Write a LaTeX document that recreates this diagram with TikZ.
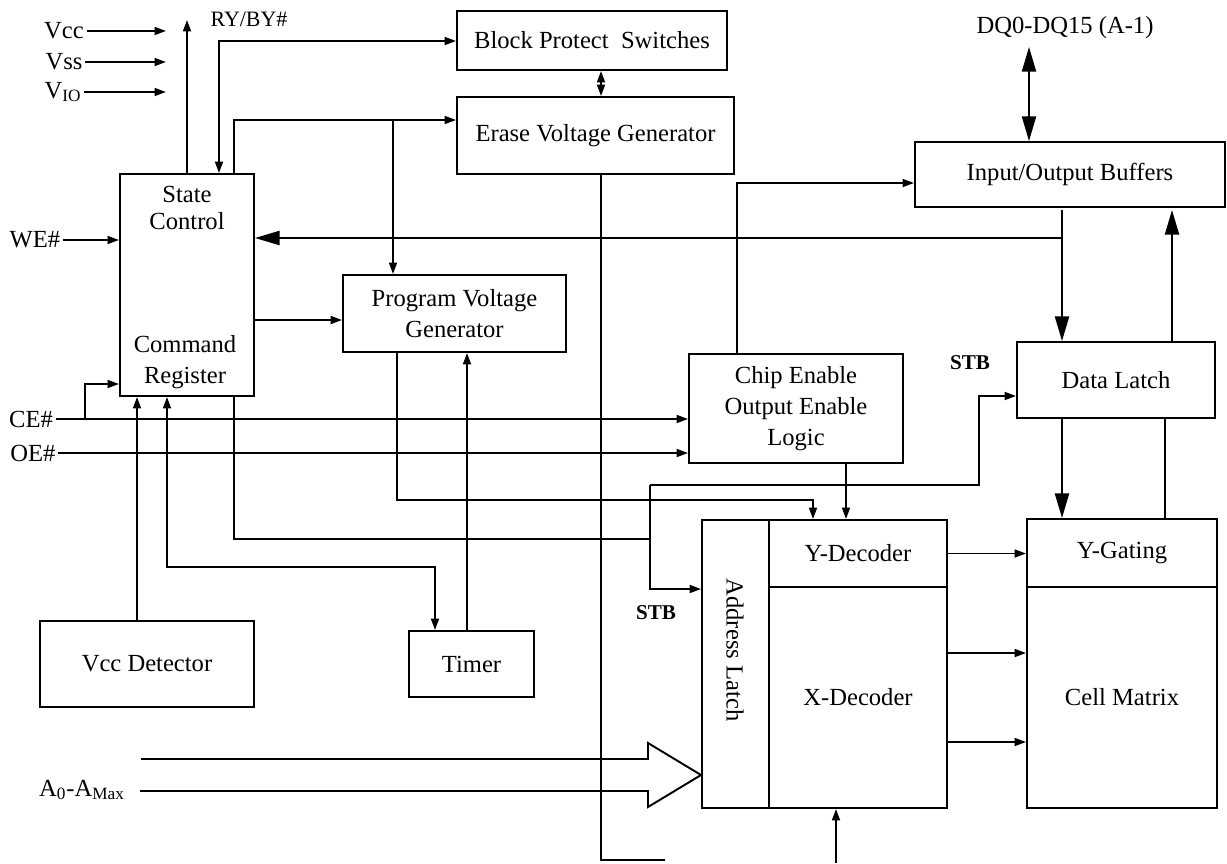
\documentclass[tikz,border=0pt]{standalone}
\usepackage{fontspec}
\setmainfont{Liberation Serif}
\usepackage{tikz}
\usetikzlibrary{arrows.meta}
\newdimen\px
\px=0.02cm

\begin{document}
\begin{tikzpicture}[x=\px, y=-\px, line width=1.1pt,
    every node/.style={font=\fontsize{14}{17.5}\selectfont, inner sep=1pt, align=center},
    blk/.style 2 args={draw, minimum width=#1*\px, minimum height=#2*\px, inner sep=0pt},
    sarr/.style={-{Triangle[length=6.5pt, width=4.5pt]}},
    sboth/.style={{Triangle[length=6.5pt, width=4.5pt]}-{Triangle[length=6.5pt, width=4.5pt]}},
    barr/.style={-{Triangle[length=14pt, width=8pt]}},
    bboth/.style={{Triangle[length=14pt, width=8pt]}-{Triangle[length=14pt, width=8pt]}},
    stb/.style={font=\fontsize{12}{14}\selectfont\bfseries}]
    \useasboundingbox (0,0) rectangle (1227,863);

    % Blocks
    \node[blk={270}{59}] (bps) at (592,40.5) {Block Protect~ Switches};
    \node[blk={277}{77}] (evg) at (595.5,135.5) {Erase Voltage Generator};
    \node[blk={134}{222}] (sc) at (187,285) {};
    \node[blk={223}{77}] (pvg) at (454.5,313.5) {Program Voltage\\Generator};
    \node[blk={214}{109}] (ceo) at (796,408.5) {Chip Enable\\Output Enable\\Logic};
    \node[blk={310}{65}] (iob) at (1070,174.5) {Input/Output Buffers};
    \node[blk={198}{76}] (dl) at (1116,380) {Data Latch};
    \node[blk={214}{86}] (vccd) at (147,664) {Vcc Detector};
    \node[blk={125}{66}] (tmr) at (471.5,664) {Timer};
    \node[blk={67}{288}] (al) at (735.5,664) {};
    \node[blk={178}{67}] (yd) at (858,553.5) {Y-Decoder};
    \node[blk={178}{221}] (xd) at (858,697.5) {X-Decoder};
    \node[blk={190}{68}] (yg) at (1122,553) {Y-Gating};
    \node[blk={190}{221}] (cm) at (1122,697.5) {Cell Matrix};

    \node[font=\fontsize{14}{15.5}\selectfont] (sctext) at (187,208) {State\\Control};
    \node (crtext) at (185,362) {Command\\Register};
    \node[rotate=-90] (altext) at (735,650) {Address Latch};

    % Pins
    \node (vcc) at (64,31) {Vcc};
    \node (vss) at (64,62) {Vss};
    \node (vio) at (63,92) {V\textsubscript{IO}};
    \node[font=\fontsize{12.5}{14}\selectfont] (ry) at (249,19) {RY/BY\#};
    \node (we) at (35,240) {WE\#};
    \node (ce) at (31,419) {CE\#};
    \node (oe) at (33,453) {OE\#};
    \node (addr) at (82,790) {A\textsubscript{0}-A\textsubscript{Max}};
    \node (dq) at (1065,28) {DQ0-DQ15 (A-1)};
    \node[stb] (stbd) at (970,363) {STB};
    \node[stb] (stba) at (656,613) {STB};

    % Supply
    \coordinate (pin) at (166,0);
    \draw[sarr] (vcc.east) -- (vcc.east -| pin);
    \draw[sarr] (vss.east) -- (vss.east -| pin);
    \draw[sarr] (vio.east) -- (vio.east -| pin);
    \coordinate (vtop) at (187,20);
    \draw[sarr] (sc.north) -- (vtop);

    % State control lines
    \coordinate (rb) at (219,41);
    \draw[sboth] (sc.north -| rb) -- (rb) -- (rb -| bps.west);
    \coordinate (ev) at (234,120);
    \coordinate (evb) at (393,120);
    \draw[sarr] (sc.north -| ev) -- (ev) -- (ev -| evg.west);
    \draw[sarr] (evb) -- (evb |- pvg.north);
    \coordinate (be) at (601,0);
    \draw[sboth] (bps.south -| be) -- (evg.north -| be);
    \coordinate (eb) at (601,860);
    \coordinate (eb2) at (665,860);
    \draw (evg.south -| be) -- (eb) -- (eb2);
    \draw[sarr] (we.east) -- (we.east -| sc.west);
    \coordinate (sp) at (254,320);
    \draw[sarr] (sc.east |- sp) -- (sp -| pvg.west);

    % Control inputs
    \draw[sarr] (ce.east) -- (ce.east -| ceo.west);
    \draw[sarr] (oe.east) -- (oe.east -| ceo.west);
    \coordinate (cb) at (85,419);
    \coordinate (cb2) at (85,384);
    \draw[sarr] (cb) -- (cb2) -- (cb2 -| sc.west);
    \coordinate (ci) at (737,183);
    \draw[sarr] (ceo.north -| ci) -- (ci) -- (ci -| iob.west);
    \coordinate (cy) at (846,0);
    \draw[sarr] (ceo.south -| cy) -- (cy |- yd.north);

    % Detector and timer
    \coordinate (vd) at (137,0);
    \draw[sarr] (vccd.north -| vd) -- (vd |- sc.south);
    \coordinate (tm1) at (167,567);
    \coordinate (tm2) at (435,567);
    \draw[sboth] (sc.south -| tm1) -- (tm1) -- (tm2) -- (tm2 |- tmr.north);
    \coordinate (tp) at (467,0);
    \draw[sarr] (tmr.north -| tp) -- (tp |- pvg.south);
    \coordinate (pv1) at (397,500);
    \coordinate (pv2) at (813,500);
    \draw[sarr] (pvg.south -| pv1) -- (pv1) -- (pv2) -- (pv2 |- yd.north);

    % Strobe
    \coordinate (cr1) at (234,539);
    \coordinate (cr2) at (650,539);
    \draw (sc.south -| cr1) -- (cr1) -- (cr2);
    \coordinate (sa) at (650,485);
    \coordinate (sb) at (979,485);
    \coordinate (sd) at (979,396);
    \coordinate (se) at (650,589);
    \draw[sarr] (sa) -- (sb) -- (sd) -- (sd -| dl.west);
    \draw[sarr] (sa) -- (se) -- (se -| al.west);

    % Data path
    \coordinate (dqt) at (1029,47);
    \draw[bboth] (dqt) -- (dqt |- iob.north);
    \coordinate (io1) at (1062,210);
    \coordinate (io2) at (1062,238);
    \draw[barr] (io1) -- (io1 |- dl.north);
    \draw[barr] (io2) -- (io2 -| sc.east);
    \coordinate (up) at (1172,0);
    \draw[barr] (dl.north -| up) -- (up |- io1);
    \draw[barr] (dl.south -| io1) -- (io1 |- yg.north);
    \coordinate (g1) at (1165,0);
    \draw (dl.south -| g1) -- (g1 |- yg.north);

    % Decoders
    \draw[sarr] (yd.east) -- (yd.east -| yg.west);
    \coordinate (x1) at (947,653);
    \coordinate (x2) at (947,742);
    \draw[sarr] (x1) -- (x1 -| cm.west);
    \draw[sarr] (x2) -- (x2 -| cm.west);
    \coordinate (xb) at (836,863);
    \draw[sarr] (xb) -- (xb |- xd.south);

    % Address bus
    \coordinate (ab1) at (141,759);
    \coordinate (ab2) at (648,759);
    \coordinate (ab3) at (648,743);
    \coordinate (abt) at (702,775);
    \coordinate (ab4) at (648,807);
    \coordinate (ab5) at (648,791);
    \coordinate (ab6) at (140,791);
    \draw (ab1) -- (ab2) -- (ab3) -- (abt -| al.west) -- (ab4) -- (ab5) -- (ab6);
\end{tikzpicture}
\end{document}
